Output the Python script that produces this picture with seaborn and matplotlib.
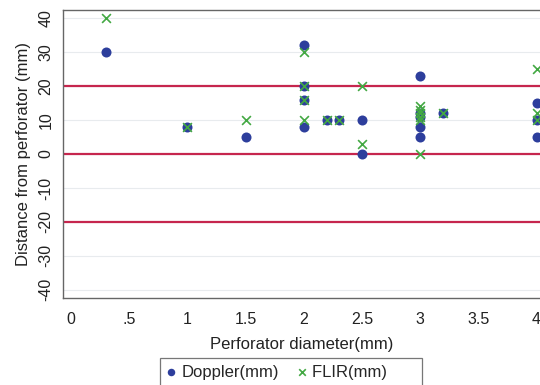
import pandas as pd
import matplotlib.pyplot as plt
import seaborn as sns

# ---- data ----
doppler_x = [0.3, 1, 1.5, 2, 2, 2, 2, 2.2, 2.3, 2.5, 2.5, 3, 3, 3, 3, 3, 3.2, 4, 4, 4]
doppler_y = [30, 8, 5, 32, 20, 16, 8, 10, 10, 10, 0, 23, 12, 11, 8, 5, 12, 15, 10, 5]

flir_x = [0.3, 1, 1.5, 2, 2, 2, 2, 2.2, 2.3, 2.5, 2.5, 3, 3, 3, 3, 3, 3, 3.2, 4, 4, 4]
flir_y = [40, 8, 10, 30, 20, 16, 10, 10, 10, 20, 3, 14, 13, 12, 11, 10, 0, 12, 25, 12, 10]

ref_lines = [20, 0, -20]
x_ticks = [0, 0.5, 1, 1.5, 2, 2.5, 3, 3.5, 4]
x_tick_labels = ['0', '.5', '1', '1.5', '2', '2.5', '3', '3.5', '4']
y_ticks = [-40, -30, -20, -10, 0, 10, 20, 30, 40]

flir = pd.DataFrame({'diam': flir_x, 'dist': flir_y})

sns.set_style('white')
plt.rcParams['font.family'] = ['Liberation Sans', 'DejaVu Sans']
plt.rcParams['axes.unicode_minus'] = False

fig = plt.figure(figsize=(5.4, 3.85), dpi=100)
ax = fig.add_axes([0.1167, 0.226, 0.8833, 0.748])

# light grid lines + red reference lines
for y in y_ticks:
    ax.axhline(y, color='#e8ebee', lw=0.8, zorder=0)
for y in ref_lines:
    ax.axhline(y, color='#c6264e', lw=1.6, zorder=1)

ax.scatter(doppler_x, doppler_y, s=52, color='#2d3e9c', marker='o',
           lw=0, zorder=3, label='Doppler(mm)')
sns.scatterplot(data=flir, x='diam', y='dist', ax=ax,
                marker='x', color='#43a843', s=40, linewidth=1.2,
                zorder=4, label='FLIR(mm)' + ' ' * 6)

ax.set_xlim(-0.07, 4.03)
ax.set_ylim(-42.4, 42.4)
ax.set_xticks(x_ticks)
ax.set_xticklabels(x_tick_labels)
ax.set_yticks(y_ticks)
ax.tick_params(axis='both', direction='out', length=5, width=0.8, color='#555555',
               labelsize=11.5, labelcolor='#222222')
ax.tick_params(axis='x', pad=5)
ax.tick_params(axis='y', pad=2)
plt.setp(ax.get_yticklabels(), rotation=90, va='center')

for side in ['left', 'bottom', 'top']:
    ax.spines[side].set_color('#666666')
    ax.spines[side].set_linewidth(1.0)
ax.spines['right'].set_visible(False)

ax.set_xlabel('Perforator diameter(mm)', fontsize=12, color='#222222', labelpad=7)
ax.set_ylabel('Distance from perforator (mm)', fontsize=12, color='#222222', labelpad=5)

leg = ax.legend(loc='upper left', bbox_to_anchor=(0.203, -0.208), ncol=2,
                fontsize=12, frameon=True, fancybox=False, borderpad=0.4,
                borderaxespad=0, handletextpad=0.4, columnspacing=1.1,
                markerscale=0.75, handlelength=0.5)
leg.get_frame().set_edgecolor('#555555')
leg.get_frame().set_linewidth(0.9)

fig.savefig('out.png', dpi=100)
